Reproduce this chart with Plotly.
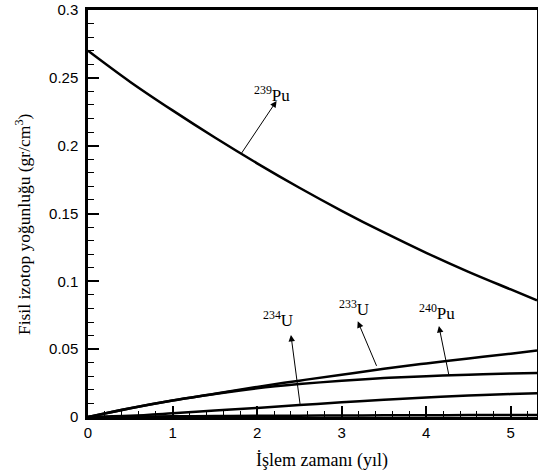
import plotly.graph_objects as go

# Time (years)
t = [0, 0.5, 1, 1.5, 2, 2.5, 3, 3.5, 4, 4.5, 5, 5.31]
# Densities (gr/cm^3)
pu239 = [0.270, 0.247, 0.226, 0.206, 0.187, 0.169, 0.152, 0.136, 0.121, 0.107, 0.094, 0.086]
u233 = [0.0, 0.0065, 0.0122, 0.0172, 0.0222, 0.0268, 0.0312, 0.0355, 0.0395, 0.0432, 0.0467, 0.0490]
pu240 = [0.0, 0.0065, 0.0122, 0.0170, 0.0212, 0.0243, 0.0268, 0.0287, 0.0301, 0.0312, 0.0321, 0.0325]
u234 = [0.0, 0.0009, 0.0027, 0.0047, 0.0067, 0.0088, 0.0108, 0.0127, 0.0144, 0.0158, 0.0169, 0.0175]
other = [0.0, 0.0002, 0.0005, 0.0007, 0.0009, 0.0010, 0.0011, 0.0012, 0.0013, 0.0014, 0.0015, 0.0015]

x_ticks = [0, 1, 2, 3, 4, 5]
y_ticks = [0, 0.05, 0.1, 0.15, 0.2, 0.25, 0.3]
y_ticklabels = ["0", "0.05", "0.1", "0.15", "0.2", "0.25", "0.3"]

fig = go.Figure()
for ys in [pu239, u233, pu240, u234, other]:
    fig.add_trace(go.Scatter(x=t, y=ys, mode="lines", line=dict(color="black", width=2.5),
                             line_shape="spline", showlegend=False, hoverinfo="skip"))

# labels: (text, label x, label y, arrow head x, head y, tail x, tail y)
labels = [
    ("<sup>239</sup>Pu", 2.18, 0.238, 2.23, 0.233, 1.80, 0.193),
    ("<sup>234</sup>U", 2.25, 0.0725, 2.40, 0.0605, 2.51, 0.0085),
    ("<sup>233</sup>U", 3.14, 0.0805, 3.19, 0.0705, 3.42, 0.0366),
    ("<sup>240</sup>Pu", 4.13, 0.0775, 4.15, 0.0670, 4.27, 0.0302),
]
for txt, lx, ly, hx, hy, tx, ty in labels:
    fig.add_annotation(x=hx, y=hy, ax=tx, ay=ty, xref="x", yref="y", axref="x", ayref="y",
                       text="", showarrow=True, arrowhead=2, arrowsize=1.3, arrowwidth=1,
                       arrowcolor="black", standoff=0, startstandoff=0)
    fig.add_annotation(x=lx, y=ly, xref="x", yref="y", text=txt, showarrow=False,
                       font=dict(family="Liberation Serif", size=17, color="black"))

# axis titles
fig.add_annotation(x=0, y=0.474, xref="paper", yref="paper", xanchor="center", yanchor="middle",
                   xshift=-65, textangle=-90, showarrow=False,
                   text="Fisil izotop yoğunluğu (gr/cm<sup>3</sup>)",
                   font=dict(family="Liberation Serif", size=17.5, color="black"))
fig.add_annotation(x=0.5, y=0, xref="paper", yref="paper", xanchor="center", yanchor="middle",
                   xshift=9, yshift=-43, showarrow=False,
                   text="İşlem zamanı (yıl)",
                   font=dict(family="Liberation Serif", size=18, color="black"))

fig.update_layout(
    width=538, height=473,
    margin=dict(l=88, r=1, t=10, b=56),
    plot_bgcolor="white", paper_bgcolor="white",
    font=dict(family="Liberation Sans", size=15, color="black"),
)
fig.update_xaxes(
    range=[0, 5.31], tickvals=x_ticks, ticks="inside", ticklen=11, tickwidth=2, tickcolor="black",
    minor=dict(dtick=0.2, ticks="inside", ticklen=6, tickwidth=1, tickcolor="black"),
    showline=True, linecolor="black", linewidth=2.5, mirror=True, showgrid=False, zeroline=False,
    tickfont=dict(family="Liberation Sans", size=15), automargin=False,
)
fig.update_yaxes(
    range=[0, 0.3], tickvals=y_ticks, ticktext=y_ticklabels, ticks="inside", ticklen=11, tickwidth=2,
    tickcolor="black",
    minor=dict(dtick=0.01, ticks="inside", ticklen=6, tickwidth=1, tickcolor="black"),
    showline=True, linecolor="black", linewidth=2.5, mirror=True, showgrid=False, zeroline=False,
    tickfont=dict(family="Liberation Sans", size=15), automargin=False, ticklabelstandoff=4,
)
fig.write_html("out.html", config={"displayModeBar": False},
               post_script="document.body.style.margin='0';document.body.style.overflow='hidden';")
